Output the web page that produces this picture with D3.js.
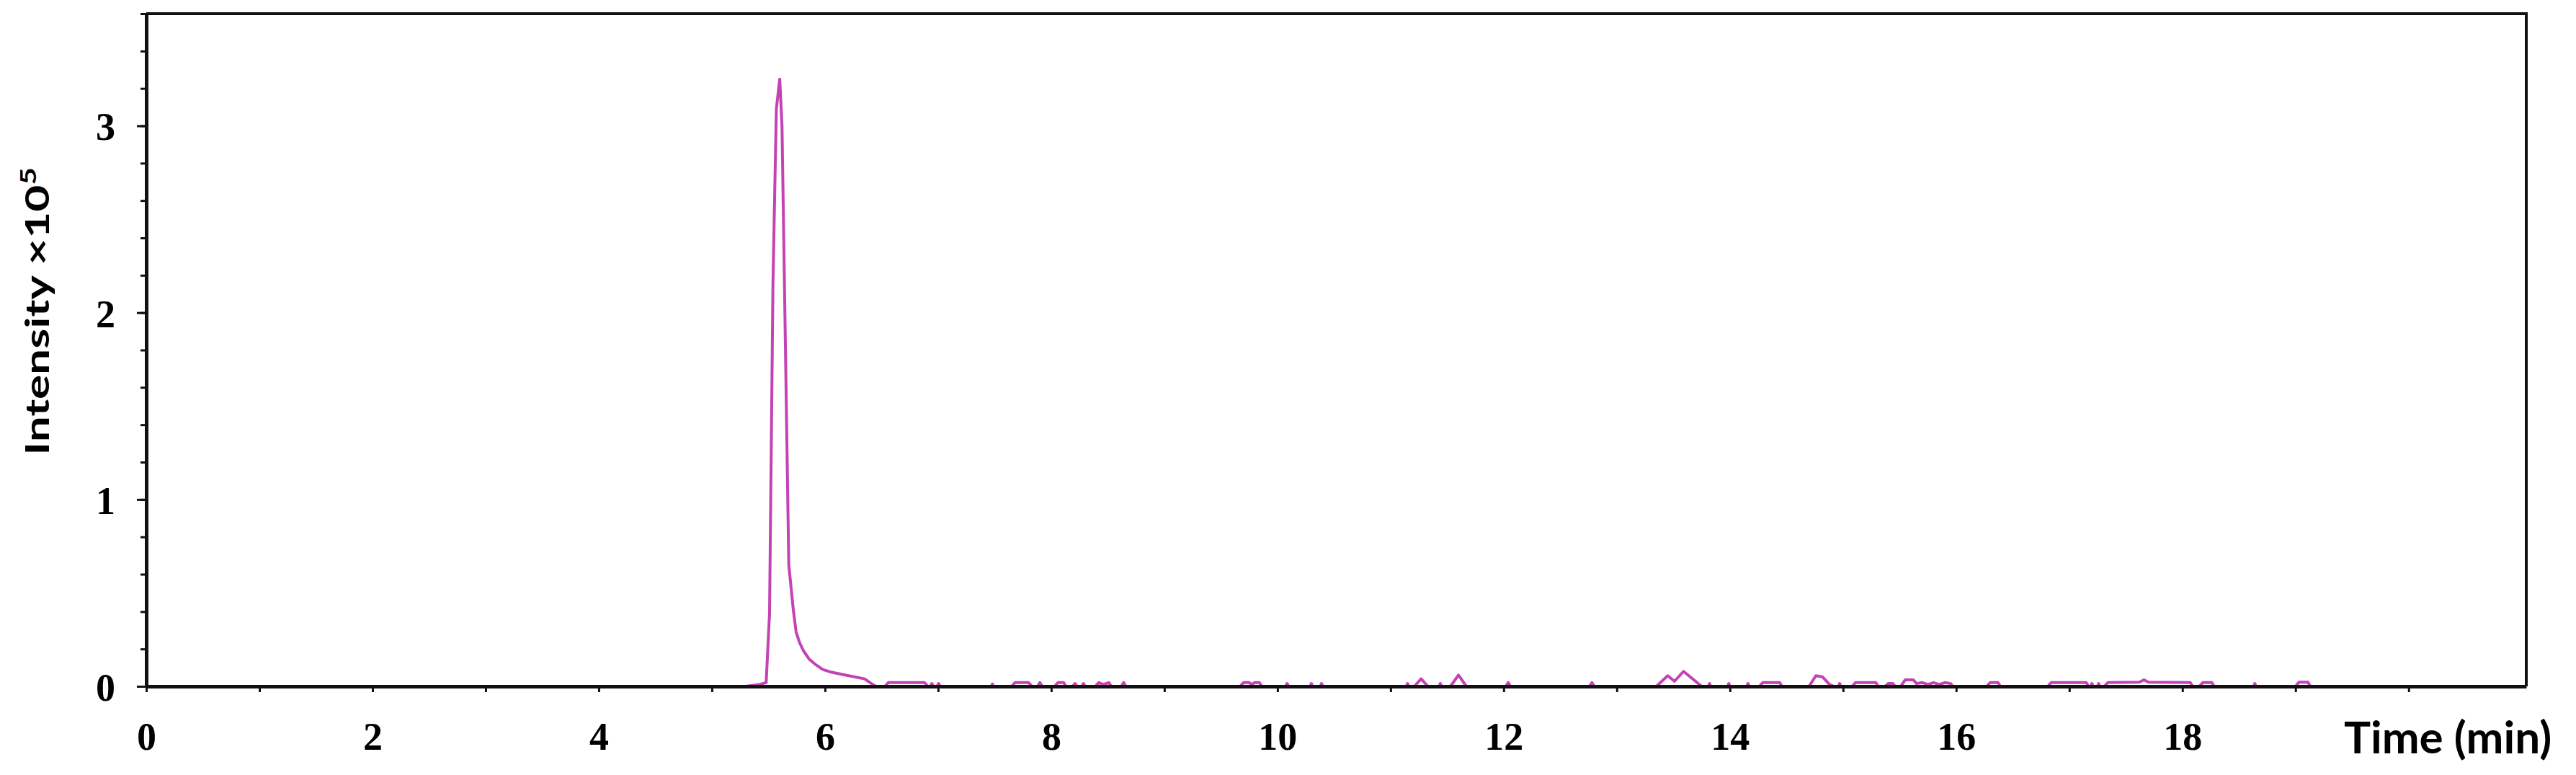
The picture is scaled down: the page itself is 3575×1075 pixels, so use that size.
<!DOCTYPE html>
<html>
<head>
<meta charset="utf-8">
<script src="https://cdn.jsdelivr.net/npm/d3@7"></script>
<style>
    body { margin: 0; background: #fff; }
    svg { display: block; }
</style>
</head>
<body>
<script>
// chromatogram trace, time in min, intensity in units of 1e5
const timeMin = [
    5.30, 5.42, 5.48, 5.51, 5.54, 5.57, 5.60, 5.62, 5.65, 5.68, 5.72, 5.745, 5.775, 5.81, 5.86, 5.92, 5.98, 6.06, 6.20, 6.35, 6.41, 6.45,
    6.53, 6.56, 6.88, 6.91, 6.93, 6.945, 6.96, 6.99, 7.005, 7.02, 7.47, 7.48, 7.49,
    7.65, 7.68, 7.80, 7.83, 7.88, 7.90, 7.92, 8.03, 8.06, 8.11, 8.13, 8.19, 8.21, 8.23, 8.27, 8.285, 8.30,
    8.39, 8.42, 8.46, 8.51, 8.53, 8.62, 8.64, 8.66,
    9.67, 9.70, 9.75, 9.77, 9.80, 9.84, 9.86, 10.07, 10.085, 10.10, 10.29, 10.30, 10.31, 10.38, 10.39, 10.40,
    11.14, 11.15, 11.16, 11.21, 11.27, 11.33, 11.43, 11.44, 11.45, 11.53, 11.60, 11.67,
    12.02, 12.04, 12.06, 12.76, 12.78, 12.80,
    13.35, 13.45, 13.51, 13.59, 13.69, 13.75, 13.81, 13.82, 13.83, 13.98, 13.99, 14.00, 14.15, 14.16, 14.17,
    14.26, 14.29, 14.44, 14.46, 14.70, 14.76, 14.82, 14.88, 14.92, 14.96, 14.97, 14.98,
    15.08, 15.11, 15.29, 15.31, 15.37, 15.40, 15.44, 15.46, 15.51, 15.55, 15.62, 15.65,
    15.70, 15.75, 15.80, 15.85, 15.90, 15.95, 15.97,
    16.27, 16.30, 16.37, 16.39, 16.81, 16.84, 17.15, 17.17, 17.19, 17.20, 17.21, 17.25, 17.26, 17.27,
    17.31, 17.34, 17.62, 17.66, 17.70, 18.07, 18.09, 18.15, 18.18, 18.26, 18.28, 18.63, 18.64, 18.65,
    19.00, 19.03, 19.11, 19.13, 19.20
];
const intensity = [
    0, 0.01, 0.02, 0.39, 2.15, 3.09, 3.25, 3.00, 1.83, 0.65, 0.41, 0.29, 0.235, 0.19, 0.146, 0.115, 0.09, 0.075, 0.058, 0.04, 0.015, 0,
    0, 0.02, 0.02, 0, 0, 0.015, 0, 0, 0.015, 0, 0, 0.012, 0,
    0, 0.02, 0.02, 0, 0, 0.02, 0, 0, 0.02, 0.02, 0, 0, 0.015, 0, 0, 0.015, 0,
    0, 0.02, 0.01, 0.02, 0, 0, 0.02, 0,
    0, 0.02, 0.02, 0.01, 0.02, 0.02, 0, 0, 0.015, 0, 0, 0.015, 0, 0, 0.015, 0,
    0, 0.015, 0, 0, 0.04, 0, 0, 0.015, 0, 0, 0.06, 0,
    0, 0.02, 0, 0, 0.02, 0,
    0, 0.057, 0.027, 0.08, 0.03, 0, 0, 0.015, 0, 0, 0.015, 0, 0, 0.015, 0,
    0, 0.02, 0.02, 0, 0, 0.057, 0.05, 0.01, 0, 0, 0.015, 0,
    0, 0.02, 0.02, 0, 0, 0.015, 0.015, 0, 0, 0.035, 0.035, 0.015,
    0.02, 0.01, 0.02, 0.01, 0.02, 0.015, 0,
    0, 0.02, 0.02, 0, 0, 0.02, 0.02, 0, 0, 0.015, 0, 0, 0.015, 0,
    0, 0.02, 0.022, 0.035, 0.022, 0.02, 0, 0, 0.02, 0.02, 0, 0, 0.015, 0,
    0, 0.022, 0.022, 0, 0
];
const xTicks = d3.range(0, 21, 1);
const xLabels = ["0", "2", "4", "6", "8", "10", "12", "14", "16", "18"];
const yMajor = [0, 1, 2, 3];
const yMinor = d3.range(0, 3.61, 0.2);

const w = 3575;
const h = 1075;
const plotLeft = 203, plotRight = 3506, plotTop = 19, plotBottom = 952;

const svg = d3.select("body")
    .append("svg")
    .attr("width", w)
    .attr("height", h);

const x = d3.scaleLinear().domain([0, 21.04]).range([plotLeft, plotRight]);
const y = d3.scaleLinear().domain([0, 3.6]).range([plotBottom, plotTop]);

const points = timeMin.map((t, i) => [t, intensity[i]]);

// trace goes under the axes, so the baseline stays hidden
svg.append("path")
    .datum(points)
    .attr("fill", "none")
    .attr("stroke", "#c443b4")
    .attr("stroke-width", 4)
    .attr("stroke-linejoin", "round")
    .attr("d", d3.line()
        .x(d => x(d[0]))
        .y(d => y(d[1])));

// top and right border
svg.append("path")
    .attr("fill", "none")
    .attr("stroke", "#111")
    .attr("stroke-width", 4)
    .attr("d", "M" + plotLeft + "," + plotTop + "H" + plotRight + "V" + plotBottom);

// y axis: minor ticks, then major ticks with labels
svg.append("g")
    .attr("transform", "translate(" + plotLeft + ",0)")
    .call(d3.axisLeft(y).tickValues(yMinor).tickSize(8).tickSizeOuter(0).tickFormat(""))
    .call(g => g.select(".domain").remove())
    .selectAll("line").attr("stroke", "#111").attr("stroke-width", 3);

const yAxis = svg.append("g")
    .attr("transform", "translate(" + plotLeft + ",0)")
    .call(d3.axisLeft(y).tickValues(yMajor).tickSize(13).tickSizeOuter(0).tickPadding(30).tickFormat(d3.format("d")));
yAxis.select(".domain").attr("stroke", "#111").attr("stroke-width", 5);
yAxis.selectAll("line").attr("stroke", "#111").attr("stroke-width", 3);
yAxis.selectAll("text")
    .attr("fill", "#000")
    .attr("dy", "0.36em")
    .style("font-family", "'Liberation Serif', 'Times New Roman', serif")
    .style("font-weight", "bold")
    .style("font-size", "54px");

// x axis
const xAxis = svg.append("g")
    .attr("transform", "translate(0," + plotBottom + ")")
    .call(d3.axisBottom(x).tickValues(xTicks).tickSize(8).tickSizeOuter(0).tickPadding(42)
        .tickFormat(d => xLabels.includes(String(d)) ? String(d) : ""));
xAxis.select(".domain").attr("stroke", "#111").attr("stroke-width", 5);
xAxis.selectAll("line").attr("stroke", "#111").attr("stroke-width", 3);
xAxis.selectAll("text")
    .attr("fill", "#000")
    .style("font-family", "'Liberation Serif', 'Times New Roman', serif")
    .style("font-weight", "bold")
    .style("font-size", "54px");

// axis titles
svg.append("text")
    .attr("x", 3253)
    .attr("y", 1045)
    .attr("font-family", "Lato, 'Open Sans', sans-serif")
    .attr("font-weight", "bold")
    .attr("font-size", "62px")
    .attr("fill", "#000")
    .text("Time (min)");

// the y title is narrow in the original, so squeeze the glyph height
const yTitle = svg.append("text")
    .attr("transform", "translate(68,432) rotate(-90) scale(1,0.72)")
    .attr("text-anchor", "middle")
    .attr("font-family", "Lato, 'Open Sans', sans-serif")
    .attr("font-weight", "bold")
    .attr("font-size", "64px")
    .attr("fill", "#000");
yTitle.append("tspan").text("Intensity ×10");
yTitle.append("tspan")
    .attr("baseline-shift", "super")
    .attr("font-size", "42px")
    .text("5");
</script>
</body>
</html>
